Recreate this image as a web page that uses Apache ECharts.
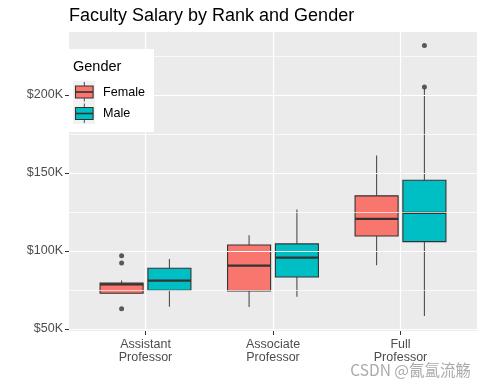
<!DOCTYPE html>
<html>
<head>
<meta charset="utf-8">
<script src="https://cdn.jsdelivr.net/npm/echarts@6/dist/echarts.min.js"></script>
<style>html,body{margin:0;padding:0;background:#fff;}#chart{width:485px;height:388px;}</style>
</head>
<body>
<div id="chart"></div>
<script>
// ---- data ----
const categories = ['Assistant\nProfessor', 'Associate\nProfessor', 'Full\nProfessor'];
const genders = ['Female', 'Male'];
// [lower whisker, Q1, median, Q3, upper whisker]
const femaleStats = [
  [72900, 72900, 78600, 79500, 81000],
  [64000, 74400, 90600, 103800, 110000],
  [90800, 109600, 120500, 135300, 161100]
];
const maleStats = [
  [64300, 74800, 81000, 88900, 94900],
  [70700, 83300, 95700, 104500, 126500],
  [58300, 106000, 124400, 145300, 204000]
];
// outliers per category
const femaleOutliers = [[97000, 92300, 63000], [], []];
const maleOutliers = [[], [], [231600, 205000]];
const yTicks = [50000, 100000, 150000, 200000];
const yMinor = [75000, 125000, 175000, 225000];

const colors = ['#F8766D', '#00BFC4'];
const DODGE = 0.375, BOX_W = 0.3375;
const FONT = "'Liberation Sans', Arial, sans-serif";

function boxData(stats, g) {
  return stats.map((s, i) => [i + 1 + (g === 0 ? -DODGE / 2 : DODGE / 2)].concat(s));
}
function outlierData(outs, g) {
  const r = [];
  outs.forEach((arr, i) => arr.forEach(v => r.push([i + 1 + (g === 0 ? -DODGE / 2 : DODGE / 2), v])));
  return r;
}
function makeRender(fill) {
  return function (params, api) {
    const x = api.value(0);
    const lo = api.coord([x, api.value(1)]);
    const q1 = api.coord([x, api.value(2)]);
    const md = api.coord([x, api.value(3)]);
    const q3 = api.coord([x, api.value(4)]);
    const hi = api.coord([x, api.value(5)]);
    const w = api.size([BOX_W, 0])[0];
    const cx = lo[0];
    const wStyle = { stroke: '#4d4d4d', lineWidth: 1.1 };
    return {
      type: 'group',
      children: [
        { type: 'line', shape: { x1: cx, y1: q3[1], x2: cx, y2: hi[1] }, style: wStyle },
        { type: 'line', shape: { x1: cx, y1: q1[1], x2: cx, y2: lo[1] }, style: wStyle },
        { type: 'rect', shape: { x: cx - w / 2, y: q3[1], width: w, height: q1[1] - q3[1] }, style: { fill: fill, stroke: '#333333', lineWidth: 1.1 } },
        { type: 'line', shape: { x1: cx - w / 2, y1: md[1], x2: cx + w / 2, y2: md[1] }, style: { stroke: '#333333', lineWidth: 2.2 } }
      ]
    };
  };
}

const gridLines = [];
yTicks.forEach(v => gridLines.push({ yAxis: v, lineStyle: { color: '#ffffff', width: 1.2, type: 'solid' } }));
yMinor.forEach(v => gridLines.push({ yAxis: v, lineStyle: { color: '#ffffff', width: 0.7, type: 'solid' } }));
categories.forEach((c, i) => gridLines.push({ xAxis: i + 1, lineStyle: { color: '#ffffff', width: 1.2, type: 'solid' } }));

const chart = echarts.init(document.getElementById('chart'), null, { renderer: 'canvas' });

// legend graphics
const legendX = 69, legendY = 49;
const legendGraphics = [
  { type: 'rect', shape: { x: legendX, y: legendY, width: 85, height: 83 }, style: { fill: '#ffffff' }, z: 10 },
  { type: 'text', x: legendX + 4, y: legendY + 18, style: { text: 'Gender', fill: '#000000', font: '14.5px ' + FONT, textVerticalAlign: 'middle' }, z: 11 },
  { type: 'rect', shape: { x: 73, y: 81, width: 22, height: 43 }, style: { fill: '#F2F2F2' }, z: 11 }
];
genders.forEach((g, i) => {
  const top = 81 + i * 21.5;
  legendGraphics.push(
    { type: 'line', shape: { x1: 84.3, y1: top + 1, x2: 84.3, y2: top + 20.5 }, style: { stroke: '#4d4d4d', lineWidth: 1 }, z: 12 },
    { type: 'rect', shape: { x: 75.5, y: top + 5, width: 17.6, height: 12 }, style: { fill: colors[i], stroke: '#333333', lineWidth: 1.1 }, z: 13 },
    { type: 'line', shape: { x1: 75.5, y1: top + 11, x2: 93.1, y2: top + 11 }, style: { stroke: '#333333', lineWidth: 1.6 }, z: 14 },
    { type: 'text', x: 103, y: top + 11.5, style: { text: g, fill: '#000000', font: '12.6px ' + FONT, textVerticalAlign: 'middle' }, z: 12 }
  );
});
legendGraphics.push({
  type: 'text', right: 14, top: 362,
  style: { text: 'CSDN @氤氲流觞', fill: '#ABABAB', font: "15.5px 'Noto Sans CJK SC', sans-serif" }, z: 20
});

chart.setOption({
  animation: false,
  backgroundColor: '#ffffff',
  title: {
    text: 'Faculty Salary by Rank and Gender',
    left: 69, top: 7, padding: 0,
    textStyle: { fontSize: 18, fontWeight: 'normal', color: '#000000', fontFamily: FONT }
  },
  grid: { left: 69, right: 8, top: 32, bottom: 57, show: true, backgroundColor: '#EBEBEB', borderWidth: 0, containLabel: false },
  xAxis: {
    type: 'value', min: 0.4, max: 3.6,
    axisLine: { show: false },
    splitLine: { show: false },
    axisTick: { show: true, customValues: [1, 2, 3], length: 4, lineStyle: { color: '#333333' } },
    axisLabel: {
      customValues: [1, 2, 3],
      formatter: v => categories[Math.round(v) - 1],
      color: '#4D4D4D', fontSize: 12.5, fontFamily: FONT, lineHeight: 13, margin: 7
    }
  },
  yAxis: {
    type: 'value', min: 48700, max: 240300,
    axisLine: { show: false },
    splitLine: { show: false },
    axisTick: { show: true, customValues: yTicks, length: 4, lineStyle: { color: '#333333' } },
    axisLabel: {
      customValues: yTicks,
      formatter: v => '$' + Math.round(v / 1000) + 'K',
      color: '#4D4D4D', fontSize: 12.5, fontFamily: FONT, margin: 6
    }
  },
  graphic: legendGraphics,
  series: [
    {
      type: 'line', data: [], z: 1, silent: true,
      markLine: { silent: true, symbol: ['none', 'none'], label: { show: false }, animation: false, data: gridLines }
    },
    { type: 'custom', name: 'Female', renderItem: makeRender(colors[0]), data: boxData(femaleStats, 0), encode: { x: 0, y: [1, 2, 3, 4, 5] }, z: 3 },
    { type: 'custom', name: 'Male', renderItem: makeRender(colors[1]), data: boxData(maleStats, 1), encode: { x: 0, y: [1, 2, 3, 4, 5] }, z: 3 },
    { type: 'scatter', data: outlierData(femaleOutliers, 0), symbolSize: 5, itemStyle: { color: '#333333' }, z: 4 },
    { type: 'scatter', data: outlierData(maleOutliers, 1), symbolSize: 5, itemStyle: { color: '#333333' }, z: 4 }
  ]
});
</script>
</body>
</html>
